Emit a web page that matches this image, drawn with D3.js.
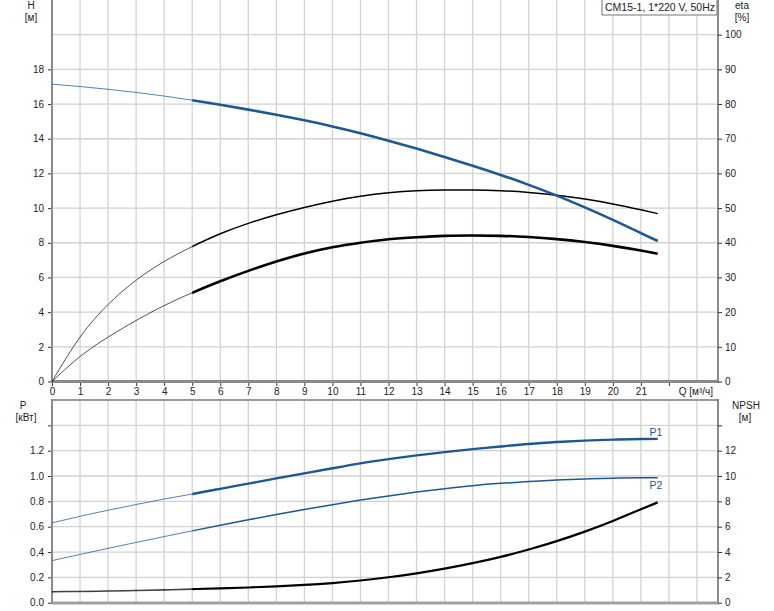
<!DOCTYPE html>
<html><head><meta charset="utf-8">
<script src="https://cdn.jsdelivr.net/npm/d3@7"></script>
<style>body{margin:0;background:#fff}svg{display:block;font-family:"Liberation Sans",Arial,sans-serif}</style>
</head><body><svg id="c" width="774" height="611"></svg>
<script>
// ---- data ----
const flowQ   = [0,1,2,3,4,5,6,7,8,9,10,11,12,13,14,15,16,17,18,19,20,21,21.6];
const headH   = [17.15,17.01,16.85,16.67,16.46,16.22,15.96,15.68,15.38,15.06,14.71,14.32,13.89,13.43,12.94,12.44,11.91,11.34,10.72,10.04,9.32,8.56,8.1];
const etaPump = [0,12.8,22.2,29.2,34.6,38.9,42.6,45.6,48.1,50.2,52.0,53.4,54.4,55.0,55.2,55.2,55.0,54.5,53.7,52.6,51.2,49.5,48.4];
const etaTot  = [0,7.2,12.8,17.6,21.9,25.6,28.9,31.9,34.6,36.9,38.7,40.0,41.0,41.6,42.0,42.1,42.0,41.65,41.05,40.2,39.1,37.75,36.85];
const powerP1 = [0.63,0.682,0.730,0.775,0.818,0.858,0.899,0.940,0.981,1.021,1.061,1.100,1.133,1.163,1.189,1.212,1.233,1.253,1.268,1.279,1.287,1.292,1.293];
const powerP2 = [0.332,0.381,0.429,0.476,0.522,0.567,0.611,0.654,0.696,0.736,0.774,0.810,0.843,0.873,0.900,0.924,0.942,0.956,0.968,0.977,0.983,0.986,0.987];
const npshR   = [0.87,0.89,0.92,0.96,1.01,1.07,1.13,1.2,1.29,1.4,1.55,1.75,2.01,2.32,2.69,3.12,3.62,4.2,4.86,5.61,6.45,7.37,7.92];
const qTicks = [0,1,2,3,4,5,6,7,8,9,10,11,12,13,14,15,16,17,18,19,20,21];
const hTicks = [0,2,4,6,8,10,12,14,16,18];
const etaTicks = [0,10,20,30,40,50,60,70,80,90,100];
const pTicks = [0,0.2,0.4,0.6,0.8,1.0,1.2];
const npshTicks = [0,2,4,6,8,10,12];
const title = "CM15-1, 1*220 V, 50Hz";

const svg = d3.select("#c");
const BLUE = "#1d5796", GRID = "#d2d2d2", AX = "#8a8a8a", TXT = "#222";
const X0 = 52, X1 = 718;
const x = d3.scaleLinear().domain([0,23.75]).range([X0,X1]);
const yH = d3.scaleLinear().domain([0,22]).range([381.5,0]);
const yE = d3.scaleLinear().domain([0,110]).range([381.5,0]);
const yP = d3.scaleLinear().domain([0,1.6]).range([602.7,400]);
const yN = d3.scaleLinear().domain([0,16]).range([602.7,400]);

// gridlines
const g = svg.append("g");
d3.range(1,24).forEach(q=>{
  g.append("line").attr("x1",x(q)).attr("x2",x(q)).attr("y1",0).attr("y2",381).attr("stroke",GRID).attr("stroke-width",1.3);
  g.append("line").attr("x1",x(q)).attr("x2",x(q)).attr("y1",400).attr("y2",602).attr("stroke",GRID).attr("stroke-width",1.3);
});
d3.range(2,21,2).forEach(h=>g.append("line").attr("x1",X0).attr("x2",X1).attr("y1",yH(h)).attr("y2",yH(h)).attr("stroke",GRID).attr("stroke-width",1.3));
[0.2,0.4,0.6,0.8,1.0,1.2,1.4].forEach(p=>g.append("line").attr("x1",X0).attr("x2",X1).attr("y1",yP(p)).attr("y2",yP(p)).attr("stroke",GRID).attr("stroke-width",1.3));

// frames
g.append("line").attr("x1",X0).attr("x2",X0).attr("y1",0).attr("y2",383).attr("stroke",AX).attr("stroke-width",2);
g.append("line").attr("x1",X1).attr("x2",X1).attr("y1",0).attr("y2",383).attr("stroke","#666").attr("stroke-width",1.5);
g.append("line").attr("x1",X0).attr("x2",X1+1).attr("y1",381.5).attr("y2",381.5).attr("stroke",AX).attr("stroke-width",3);
g.append("line").attr("x1",X0).attr("x2",X1).attr("y1",400).attr("y2",400).attr("stroke","#9a9a9a").attr("stroke-width",2);
g.append("line").attr("x1",X0).attr("x2",X0).attr("y1",399).attr("y2",604).attr("stroke",AX).attr("stroke-width",2);
g.append("line").attr("x1",X1).attr("x2",X1).attr("y1",399).attr("y2",604).attr("stroke","#666").attr("stroke-width",1.5);
g.append("line").attr("x1",X0).attr("x2",X1+1).attr("y1",603).attr("y2",603).attr("stroke","#a0a0a0").attr("stroke-width",3);

// axes
function styleAxis(sel){
  sel.select(".domain").remove();
  sel.selectAll(".tick line").attr("stroke","#333");
  sel.selectAll(".tick text").attr("fill",TXT).style("font-size","10px").style("font-family","Liberation Sans, Arial, sans-serif");
}
svg.append("g").attr("transform","translate(0,383)").call(d3.axisBottom(x).tickValues(qTicks.concat([22])).tickSize(3).tickPadding(2).tickFormat(d=>d===22?"":d)).call(styleAxis);
svg.append("g").attr("transform",`translate(${X0-1},0)`).call(d3.axisLeft(yH).tickValues(hTicks).tickSize(3).tickPadding(4)).call(styleAxis);
svg.append("g").attr("transform",`translate(${X1},0)`).call(d3.axisRight(yE).tickValues(etaTicks).tickSize(4).tickPadding(3)).call(styleAxis);
svg.append("g").attr("transform",`translate(${X0-1},0)`).call(d3.axisLeft(yP).tickValues(pTicks.concat([1.4])).tickSize(3).tickPadding(4).tickFormat(d=>d===1.4?"":d3.format(".1f")(d))).call(styleAxis);
svg.append("g").attr("transform",`translate(${X1},0)`).call(d3.axisRight(yN).tickValues(npshTicks.concat([14])).tickSize(4).tickPadding(3).tickFormat(d=>d===14?"":d)).call(styleAxis);

// axis titles
function txt(t,xx,yy,anchor,fill,size){svg.append("text").attr("x",xx).attr("y",yy).attr("text-anchor",anchor||"middle").attr("fill",fill||TXT).style("font-size",(size||10)+"px").text(t);}
txt("H",31,9); txt("[м]",31,21);
txt("eta",742,9); txt("[%]",742,21);
txt("Q [м³/ч]",713,395,"end");
txt("P",23,409); txt("[кВт]",26,421);
txt("NPSH",746,409); txt("[м]",745,421);

// legend box
svg.append("rect").attr("x",602).attr("y",-1).attr("width",115).attr("height",16).attr("fill","#fff").attr("stroke","#8a8a8a").attr("stroke-width",1.2);
txt(title,660,11,"middle",TXT,10.5);

// clip for thick part (Q>=5)
const defs = svg.append("defs");
defs.append("clipPath").attr("id","thick").append("rect").attr("x",x(5)).attr("y",0).attr("width",X1-x(5)).attr("height",611);
defs.append("clipPath").attr("id","thin").append("rect").attr("x",0).attr("y",0).attr("width",x(5)).attr("height",611);

function curve(vals,ys,color,thinW,thickW){
  const data = flowQ.map((q,i)=>[q,vals[i]]);
  const ln = d3.line().x(d=>x(d[0])).y(d=>ys(d[1])).curve(d3.curveNatural);
  svg.append("path").attr("d",ln(data)).attr("fill","none").attr("stroke",color).attr("stroke-width",thinW).attr("clip-path","url(#thin)").attr("stroke-opacity",0.75);
  svg.append("path").attr("d",ln(data)).attr("fill","none").attr("stroke",color).attr("stroke-width",thickW).attr("clip-path","url(#thick)");
}
curve(etaPump,yE,"#000",0.9,1.5);
curve(etaTot,yE,"#000",0.9,2.6);
curve(headH,yH,BLUE,1,2.6);
curve(powerP1,yP,BLUE,1,2.4);
curve(powerP2,yP,BLUE,1,1.5);
curve(npshR,yN,"#000",1.6,2.2);

txt("P1",656,436,"middle",BLUE,10.5);
txt("P2",656,489,"middle",BLUE,10.5);
</script></body></html>
